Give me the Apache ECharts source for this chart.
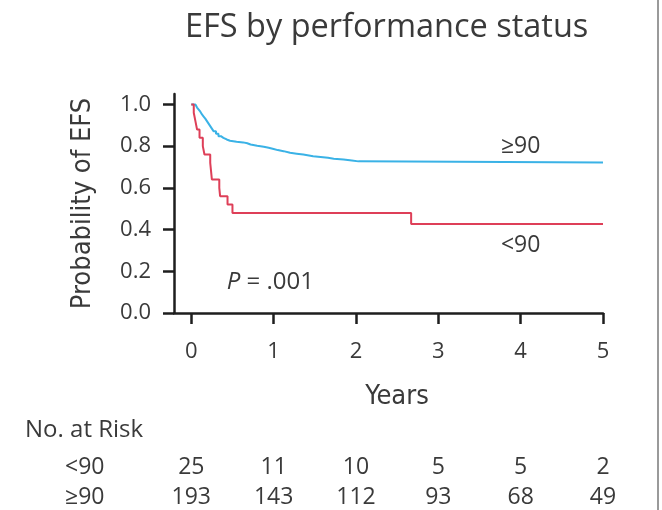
<!DOCTYPE html>
<html>
<head>
<meta charset="utf-8">
<script src="https://cdn.jsdelivr.net/npm/echarts@6/dist/echarts.min.js"></script>
<style>html,body{margin:0;padding:0;background:#fff;}#c{width:662px;height:510px;}</style>
</head>
<body>
<div id="c"></div>
<script>
// ---- data ----
const yearTicks = [0, 1, 2, 3, 4, 5];
const probTicks = [0, 0.2, 0.4, 0.6, 0.8, 1.0];

// <90 group (Kaplan-Meier steps)
const lowTimes = [0, 0.03, 0.05, 0.07, 0.10, 0.14, 0.16, 0.23, 0.24, 0.25, 0.34, 0.35, 0.44, 0.50, 2.67, 5.0];
const lowSurv  = [1.0, 0.96, 0.92, 0.88, 0.84, 0.80, 0.76, 0.72, 0.68, 0.64, 0.60, 0.56, 0.52, 0.48, 0.427, 0.427];

// >=90 group
const highTimes = [0, 0.05, 0.07, 0.09, 0.11, 0.13, 0.15, 0.17, 0.19, 0.21, 0.23, 0.25, 0.27, 0.30, 0.33, 0.36, 0.39, 0.43, 0.47, 0.55, 0.63, 0.68, 0.72, 0.80, 0.88, 0.94, 1.00, 1.05, 1.12, 1.20, 1.28, 1.36, 1.48, 1.57, 1.66, 1.73, 1.85, 1.95, 2.03, 5.0];
const highSurv  = [1.0, 0.995, 0.985, 0.975, 0.965, 0.952, 0.942, 0.932, 0.920, 0.908, 0.896, 0.884, 0.872, 0.860, 0.848, 0.840, 0.832, 0.826, 0.821, 0.818, 0.814, 0.808, 0.802, 0.797, 0.792, 0.786, 0.781, 0.776, 0.768, 0.764, 0.760, 0.752, 0.748, 0.744, 0.740, 0.736, 0.731, 0.727, 0.722, 0.722];

const groupNames = ['<90', '\u226590'];
const riskTimes = [0, 1, 2, 3, 4, 5];
const riskLow  = [25, 11, 10, 5, 5, 2];
const riskHigh = [193, 143, 112, 93, 68, 49];
const pText = '{i|P} = .001';

// ---- chart ----
const RED = '#de3f58', BLUE = '#3ab2e6', TXT = '#3a3a3a', AX = '#1e1e1e';
const FONT = '"Open Sans", Lato, sans-serif';
const NARROW = '"Liberation Sans Narrow", "DejaVu Sans Condensed", sans-serif';

const zip = (a, b) => a.map((v, i) => [v, b[i]]);
const chart = echarts.init(document.getElementById('c'), null, {renderer: 'canvas'});

chart.setOption({
  animation: false,
  backgroundColor: '#fff',
  title: {
    text: 'EFS by performance status',
    left: 180, top: 6,
    textStyle: {fontFamily: FONT, fontSize: 32.5, fontWeight: 'normal', color: TXT}
  },
  grid: {left: 174, right: 59, top: 94, bottom: 197, containLabel: false},
  xAxis: {
    type: 'value', min: -0.21, max: 5,
    name: 'Years', nameLocation: 'middle', nameGap: 70,
    nameTextStyle: {fontFamily: NARROW, fontSize: 27, color: TXT, padding: [0, 0, 0, 17]},
    axisLine: {show: true, onZero: false, lineStyle: {color: AX, width: 2.5}},
    axisTick: {show: true, inside: false, length: 11, lineStyle: {color: AX, width: 2.5}, customValues: yearTicks},
    axisLabel: {customValues: yearTicks, margin: 28, fontFamily: FONT, fontSize: 22, color: TXT,
      formatter: v => String(v)},
    splitLine: {show: false}
  },
  yAxis: {
    type: 'value', min: 0, max: 1.05,
    name: 'Probability of EFS', nameLocation: 'middle', nameGap: 78, nameRotate: 90,
    nameTextStyle: {fontFamily: NARROW, fontSize: 27, color: TXT, padding: [0, 0, 0, 0]},
    axisLine: {show: true, onZero: false, lineStyle: {color: AX, width: 2.5}},
    axisTick: {show: true, inside: false, length: 11, lineStyle: {color: AX, width: 2.5}, customValues: probTicks},
    axisLabel: {customValues: probTicks, margin: 23, fontFamily: FONT, fontSize: 22, color: TXT,
      formatter: v => v.toFixed(1)},
    splitLine: {show: false}
  },
  series: [
    {type: 'line', name: groupNames[1], step: 'end', showSymbol: false, symbol: 'none',
     data: zip(highTimes, highSurv), lineStyle: {color: BLUE, width: 2}, z: 3},
    {type: 'line', name: groupNames[0], step: 'end', showSymbol: false, symbol: 'none',
     data: zip(lowTimes, lowSurv), lineStyle: {color: RED, width: 2}, z: 4}
  ]
});

function px(t, s) { return chart.convertToPixel({gridIndex: 0}, [t, s]); }

const g = [];
const tstyle = (text, x, y, align, size, fam) => ({
  type: 'text', x: x, y: y, silent: true,
  style: {text: text, fill: TXT, font: (size || 23) + 'px ' + (fam || FONT), align: align || 'center', verticalAlign: 'middle'}
});

// curve labels
const lblHi = px(4.0, 0.80);
g.push(tstyle(groupNames[1], lblHi[0], lblHi[1], 'center', 23));
const lblLo = px(4.0, 0.323);
g.push(tstyle(groupNames[0], lblLo[0], lblLo[1], 'center', 23));

// p-value
const pp = px(0.43, 0.15);
g.push({type: 'text', x: pp[0], y: pp[1], silent: true,
  style: {text: pText, fill: TXT, font: '24px ' + FONT, align: 'left', verticalAlign: 'middle',
    rich: {i: {fontStyle: 'italic', fontSize: 24, fontFamily: '"Open Sans", sans-serif', fill: TXT}}}});

// number at risk table
g.push(tstyle('No. at Risk', 25, 430, 'left', 24));
g.push(tstyle(groupNames[0], 65, 467, 'left', 23));
g.push(tstyle(groupNames[1], 65, 497, 'left', 23));
riskTimes.forEach((t, i) => {
  const p = px(t, 0);
  g.push(tstyle(String(riskLow[i]), p[0], 467, 'center', 23));
  g.push(tstyle(String(riskHigh[i]), p[0], 497, 'center', 23));
});

// right border rule
g.push({type: 'line', silent: true, shape: {x1: 658, y1: 0, x2: 658, y2: 510}, style: {stroke: '#9a9a9a', lineWidth: 2}});

chart.setOption({graphic: {elements: g}});
</script>
</body>
</html>
